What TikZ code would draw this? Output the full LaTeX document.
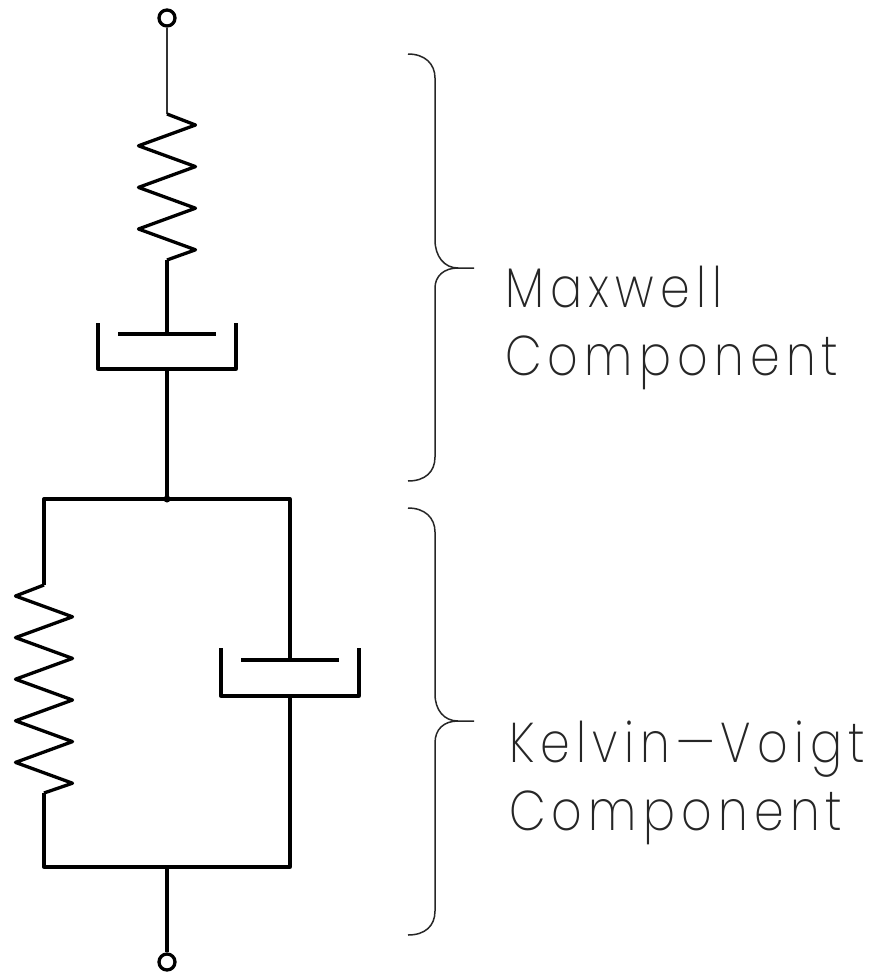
\documentclass[tikz,border=0pt]{standalone}
\usepackage{fontspec}
\newfontfamily\labelfont[UprightFont=* ExtraLight,FakeStretch=0.85,LetterSpace=11]{Poppins}
\usetikzlibrary{calc}

\begin{document}
\begin{tikzpicture}[x=1pt, y=-1pt,
        wire/.style={line width=3.3pt, line join=round},
        lead/.style={line width=1.6pt, black!80},
        bracket/.style={line width=1.5pt, black!85},
        terminal/.style={circle, draw, line width=3.3pt, fill=white, minimum size=16pt, inner sep=0pt},
        caption/.style={anchor=base west, align=left, inner sep=0pt, black!85, font=\labelfont\fontsize{56}{68}\selectfont},
    ]
        \useasboundingbox (0, 0) rectangle (883, 972);

        % Spring sizes
        \pgfmathsetmacro{\halfamp}{28.5}
        \pgfmathsetmacro{\pitch}{20.8}

        % Terminals and junctions
        \node [terminal] (T1) at (167, 18) {};
        \node [terminal] (T2) at (167, 962) {};
        \coordinate (J1) at (167, 499);
        \coordinate (J2) at (167, 867);
        \coordinate (A1) at (44, 499);
        \coordinate (A2) at (290, 499);
        \coordinate (A3) at (290, 867);
        \coordinate (A4) at (44, 867);

        % Ends of the springs
        \coordinate (S1) at (167, 114);
        \coordinate (S2) at (167, 260);
        \coordinate (S3) at (44, 585);
        \coordinate (S4) at (44, 793);

        % Upper dashpot
        \coordinate (P1) at (167, 334);
        \coordinate (C1) at (167, 369);
        % Lower dashpot
        \coordinate (P2) at (290, 660);
        \coordinate (C2) at (290, 696);

        % Series branch
        \draw [lead] (T1) -- (S1);
        \draw [wire] (S1) -- ++(\halfamp, 11)
            -- ++(-2*\halfamp, \pitch) -- ++(2*\halfamp, \pitch)
            -- ++(-2*\halfamp, \pitch) -- ++(2*\halfamp, \pitch)
            -- ++(-2*\halfamp, \pitch) -- ++(2*\halfamp, \pitch)
            -- (S2);
        \draw [wire] (S2) -- (P1);
        \draw [wire] ($(P1) + (-49, 0)$) -- ($(P1) + (49, 0)$);
        \draw [wire] ($(C1) + (-69, -46)$) -- ($(C1) + (-69, 0)$) -- ($(C1) + (69, 0)$) -- ($(C1) + (69, -46)$);
        \draw [wire] (C1) -- (J1);
        \fill (J1) circle (3.5);

        % Parallel branch
        \draw [wire] (S3) -- (A1) -- (A2) -- (P2);
        \draw [wire] (S3) -- ++(-\halfamp, 11)
            -- ++(2*\halfamp, \pitch) -- ++(-2*\halfamp, \pitch)
            -- ++(2*\halfamp, \pitch) -- ++(-2*\halfamp, \pitch)
            -- ++(2*\halfamp, \pitch) -- ++(-2*\halfamp, \pitch)
            -- ++(2*\halfamp, \pitch) -- ++(-2*\halfamp, \pitch)
            -- ++(2*\halfamp, \pitch)
            -- (S4);
        \draw [wire] (S4) -- (A4) -- (A3) -- (C2);
        \draw [wire] ($(P2) + (-49, 0)$) -- ($(P2) + (49, 0)$);
        \draw [wire] ($(C2) + (-69, -48)$) -- ($(C2) + (-69, 0)$) -- ($(C2) + (69, 0)$) -- ($(C2) + (69, -48)$);
        \draw [wire] (J2) -- (T2);

        % Braces
        \draw [bracket] (408, 54) .. controls (425, 54) and (435, 64) .. (435, 78)
            -- (435, 240) .. controls (435, 256) and (444, 268) .. (458, 268) -- (474, 268);
        \draw [bracket] (458, 268) .. controls (444, 268) and (435, 276) .. (435, 288)
            -- (435, 457) .. controls (435, 472) and (425, 481) .. (408, 481);
        \draw [bracket] (408, 508) .. controls (425, 508) and (435, 518) .. (435, 532)
            -- (435, 694) .. controls (435, 710) and (444, 721) .. (458, 721) -- (474, 721);
        \draw [bracket] (458, 721) .. controls (444, 721) and (435, 729) .. (435, 743)
            -- (435, 911) .. controls (435, 926) and (425, 935) .. (408, 935);

        % Labels
        \node [caption] (maxwell) at (505, 375) {Maxwell\\Component};
        \node [caption] (kelvin) at (509, 830) {Kelvin—Voigt\\Component};
\end{tikzpicture}
\end{document}
